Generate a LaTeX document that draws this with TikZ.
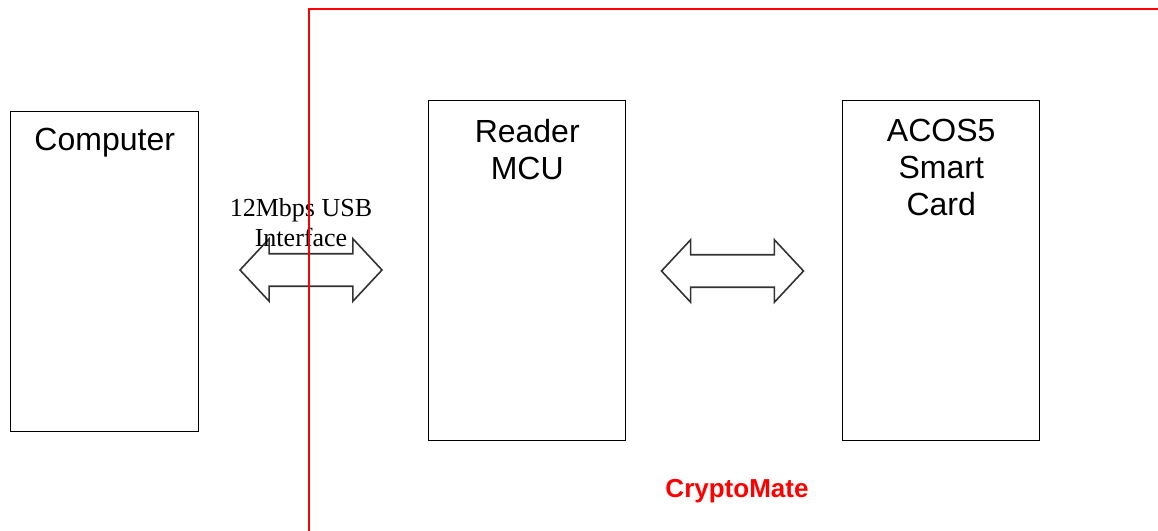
\documentclass[tikz,border=0pt]{standalone}
\usepackage{fontspec}
\setmainfont{Liberation Sans}
\newfontfamily\labelSerif{Liberation Serif}
\usetikzlibrary{shapes.arrows, positioning}
\definecolor{lineBlack}{RGB}{0, 0, 0}
\definecolor{arrowGray}{RGB}{51, 51, 51}
\definecolor{frameRed}{RGB}{255, 0, 0}
\tikzset{
    blockBox/.style={
        rectangle,
        draw=lineBlack,
        line width=1.1pt,
        fill=white,
        anchor=north west,
        inner sep=0pt
    },
    blockText/.style={
        font=\fontsize{24}{27.75}\selectfont,
        align=center,
        inner sep=0pt
    },
    linkArrow/.style={
        double arrow,
        draw=arrowGray,
        line width=1.2pt,
        fill=white,
        minimum height=106.5pt,
        minimum width=45.75pt,
        double arrow head extend=11.25pt,
        double arrow tip angle=94,
        inner xsep=0pt,
        inner ysep=11.6pt,
        text height=0pt,
        text depth=0pt
    },
    boundary/.style={
        draw=frameRed,
        line width=1.5pt
    }
}

\begin{document}
\begin{tikzpicture}[x=0.75pt, y=-0.75pt]
    \useasboundingbox[fill=white] (0,0) rectangle (1158,531);

    % Blocks
    \node[blockBox, minimum width=141pt, minimum height=240pt] (computer) at (10,111) {};
    \node[blockBox, minimum width=147.75pt, minimum height=255pt] (reader) at (428,100) {};
    \node[blockBox, minimum width=147.75pt, minimum height=255pt] (card) at (842,100) {};

    \node[blockText, below=13pt of computer.north] (computerText) {Computer};
    \node[blockText, below=14pt of reader.north] (readerText) {Reader\\MCU};
    \node[blockText, below=14pt of card.north] (cardText) {ACOS5\\Smart\\Card};

    % Links
    \node[linkArrow] (usbArrow) at (311,270) {};
    \node[linkArrow] (cardArrow) at (732.5,271) {};
    \node[font=\labelSerif\fontsize{19.5}{22.5}\selectfont, align=center, anchor=north, inner sep=0pt] (usbText) at (301,198) {12Mbps USB\\Interface};

    % CryptoMate boundary
    \coordinate (edgeLow) at (309,531);
    \coordinate (edgeCorner) at (309,9);
    \coordinate (edgeRight) at (1158,9);
    \draw[boundary] (edgeLow) -- (edgeCorner) -- (edgeRight);
    \node[text=frameRed, font=\bfseries\fontsize{19.5}{22}\selectfont, anchor=base, inner sep=0pt] (mateText) at (737,497) {CryptoMate};
\end{tikzpicture}
\end{document}
